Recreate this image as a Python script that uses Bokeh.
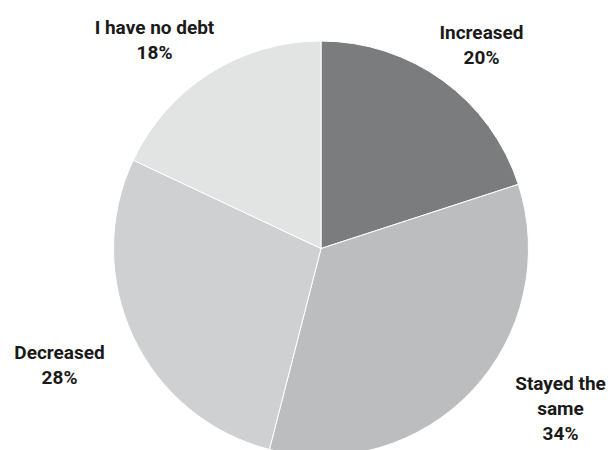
import math
from bokeh.plotting import figure
from bokeh.models import ColumnDataSource, Range1d
from bokeh.core.properties import value
from bokeh.embed import file_html
from bokeh.resources import INLINE

categories = ["Increased", "Stayed the same", "Decreased", "I have no debt"]
shares = [20, 34, 28, 18]
colors = ["#7b7c7e", "#bcbdbf", "#cfd0d2", "#e2e3e3"]
label_lines = [["Increased", "20%"], ["Stayed the", "same", "34%"], ["Decreased", "28%"], ["I have no debt", "18%"]]

W, H = 611, 450
cx, cy_px, r = 320.5, 248, 207.5
cy = H - cy_px

total = sum(shares)
starts, ends = [], []
acc = 0
for s in shares:
    starts.append(math.pi / 2 - 2 * math.pi * acc / total)
    acc += s
    ends.append(math.pi / 2 - 2 * math.pi * acc / total)

src = ColumnDataSource(dict(cat=categories, share=shares, color=colors, start=starts, end=ends))

p = figure(width=W, height=H, output_backend="svg", toolbar_location=None,
           x_range=Range1d(0, W), y_range=Range1d(0, H), min_border=0)
p.axis.visible = False
p.grid.visible = False
p.outline_line_color = None
p.background_fill_color = "white"

p.wedge(x=cx, y=cy, radius=r, start_angle="start", end_angle="end", direction="clock",
        fill_color="color", line_color="white", line_width=1, source=src)

# label anchor positions (pixel centers of first line) for each category
label_pos = [(481, 32), (560, 383), (59, 352), (154, 27)]
lx, ly, lt = [], [], []
for (x0, y0), lines in zip(label_pos, label_lines):
    for i, t in enumerate(lines):
        lx.append(x0)
        ly.append(H - (y0 + 25 * i))
        lt.append(t)

p.text(x=lx, y=ly, text=lt, text_align="center", text_baseline="middle",
       text_font=value("Roboto"), text_font_size="19px", text_font_style="bold",
       text_color="#1a1a1a")

open("out.html", "w").write(file_html(p, INLINE))
